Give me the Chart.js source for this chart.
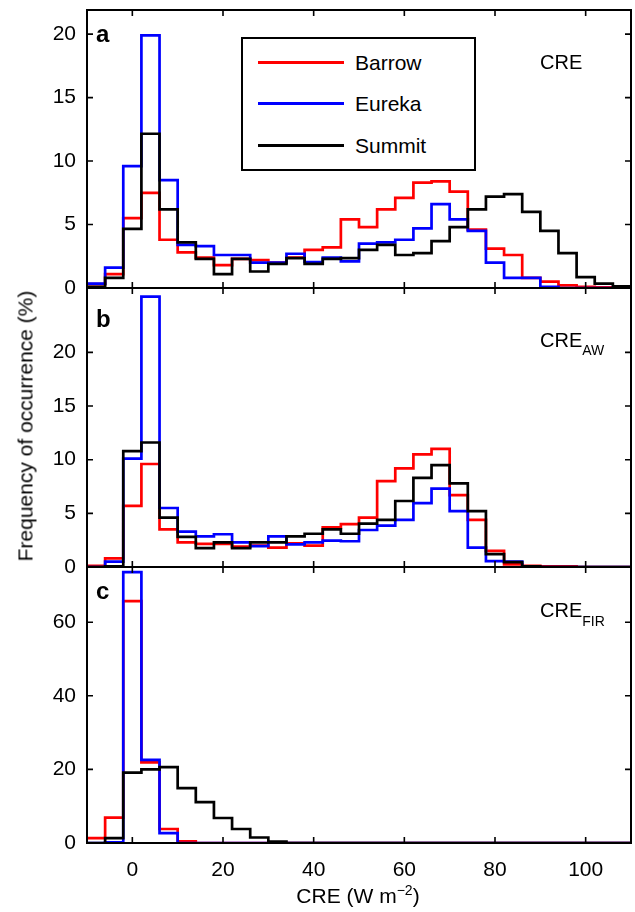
<!DOCTYPE html>
<html><head><meta charset="utf-8">
<script src="https://cdn.jsdelivr.net/npm/chart.js@4.4.1/dist/chart.umd.min.js"></script>
<style>
html,body{margin:0;padding:0;background:#fff;}
#wrap{position:relative;width:635px;height:912px;overflow:hidden;font-family:"Liberation Sans",Arial,Helvetica,sans-serif;color:#000;background:#fff;}
canvas{position:absolute;left:0;}
.t{position:absolute;line-height:1;white-space:nowrap;}
.sub{font-size:14px;line-height:0;}
.lg{position:absolute;height:3px;width:86px;left:258px;}
</style></head><body>
<div id="wrap">
<canvas id="ca" width="635" height="302" style="top:0px"></canvas>
<canvas id="cb" width="635" height="301" style="top:280px"></canvas>
<canvas id="cc" width="635" height="353" style="top:559px"></canvas>

<div style="position:absolute;left:241px;top:37px;width:235px;height:134px;border:2px solid #000;box-sizing:border-box;background:#fff;"></div>
<div class="lg" style="top:61px;background:#ff0000"></div>
<div class="lg" style="top:102px;background:#0000ff"></div>
<div class="lg" style="top:144px;background:#000000"></div>
<div class="t" style="left:355px;top:52px;font-size:21px;">Barrow</div>
<div class="t" style="left:355px;top:93px;font-size:21px;">Eureka</div>
<div class="t" style="left:355px;top:135px;font-size:21px;">Summit</div>

<div class="t" style="left:96px;top:21.7px;font-size:24px;font-weight:bold;">a</div>
<div class="t" style="left:96px;top:306.7px;font-size:24px;font-weight:bold;">b</div>
<div class="t" style="left:96px;top:578.7px;font-size:24px;font-weight:bold;">c</div>

<div class="t" style="left:540px;top:52px;font-size:20px;">CRE</div>
<div class="t" style="left:540px;top:330px;font-size:20px;">CRE<span class="sub" style="vertical-align:-8px">AW</span></div>
<div class="t" style="left:540px;top:600px;font-size:20px;">CRE<span class="sub" style="vertical-align:-9px">FIR</span></div>

<div class="t" style="left:25px;top:426px;font-size:21px;transform:translate(-50%,-50%) rotate(-90deg);">Frequency of occurrence (%)</div>
<div class="t" style="left:358px;top:885px;font-size:21px;transform:translateX(-50%);">CRE (W m<span style="font-size:14px;line-height:0;vertical-align:8px">−2</span>)</div>
</div>
<script>
// Histogram bins (left edges, W m-2) and the right edge of the last bin
const binStarts = [-10,-6,-2,2,6,10,14,18,22,26,30,34,38,42,46,50,54,58,62,66,70,74,78,82,86,90,94,98,102,106];
const binEnd = 110;

// x tick values (shared)
const xTickVals = [0,20,40,60,80,100];

// Panel a: CRE
const aBarrow = [0.3,1.1,5.5,7.5,3.8,2.8,2.4,1.8,2.3,2.2,2.0,2.4,3.0,3.2,5.4,4.8,6.2,7.1,8.3,8.4,7.6,4.6,3.1,2.6,0.8,0.5,0.2,0.1,0.05,0];
const aEureka = [0.35,1.6,9.6,19.9,8.5,3.4,3.3,2.6,2.6,2.0,2.0,2.7,2.05,2.4,2.1,3.5,3.6,3.8,4.7,6.6,5.4,4.5,2.0,0.8,0.8,0.1,0,0,0,0];
const aSummit = [0.1,0.8,4.65,12.15,6.2,3.6,2.3,1.1,2.3,1.3,1.9,2.35,1.9,2.3,2.35,3.0,3.4,2.6,2.75,3.7,4.8,6.2,7.2,7.4,6.0,4.5,2.75,0.85,0.35,0.13];
const aYTicks = [0,5,10,15,20];

// Panel b: CRE_AW
const bBarrow = [0.1,0.8,5.7,9.6,3.5,2.3,2.15,2.15,1.9,2.0,1.8,2.2,2.0,3.7,4.0,4.6,8.0,9.2,10.5,11.0,6.7,4.4,1.5,0.25,0.1,0.05,0.05,0,0,0];
const bEureka = [0,0.5,10.1,25.2,5.5,3.3,2.85,3.05,2.3,1.95,2.85,2.1,2.3,2.45,2.4,3.45,3.85,4.4,5.95,7.3,5.2,1.8,0.55,0.5,0,0,0,0,0,0];
const bSummit = [0,0.05,10.8,11.6,4.6,2.8,1.75,2.3,1.75,2.3,2.3,2.85,3.1,3.5,3.1,4.05,4.4,6.15,8.3,9.5,7.8,5.2,1.2,0.45,0.05,0,0,0,0,0];
const bYTicks = [0,5,10,15,20];

// Panel c: CRE_FIR
const cBarrow = [1.35,6.9,65.7,21.9,3.8,0.45,0,0,0,0,0,0,0,0,0,0,0,0,0,0,0,0,0,0,0,0,0,0,0,0];
const cEureka = [0,0.2,73.6,22.6,2.7,0,0,0,0,0,0,0,0,0,0,0,0,0,0,0,0,0,0,0,0,0,0,0,0,0];
const cSummit = [0,1.35,19.1,20.0,20.6,14.9,11.1,6.8,3.8,1.5,0.4,0,0,0,0,0,0,0,0,0,0,0,0,0,0,0,0,0,0,0];
const cYTicks = [0,20,40,60];

Chart.defaults.font.family = '"Liberation Sans", Arial, Helvetica, sans-serif';
Chart.defaults.color = '#000';

function steps(vals){
  const pts = vals.map((v,i)=>({x:binStarts[i], y:v}));
  pts.push({x:binEnd, y:vals[vals.length-1]});
  return pts;
}

const framePlugin = {
  id:'frame',
  afterDatasetsDraw(chart, args, opts){
    const {ctx, chartArea:a} = chart;
    const x = chart.scales.x, y = chart.scales.y;
    ctx.save();
    ctx.strokeStyle = '#000';
    ctx.lineWidth = 1.6;
    const L = 6;
    ctx.beginPath();
    opts.xTicks.forEach(v=>{
      const px = x.getPixelForValue(v);
      ctx.moveTo(px, a.bottom); ctx.lineTo(px, a.bottom - L);
      ctx.moveTo(px, a.top); ctx.lineTo(px, a.top + L);
    });
    opts.yTicks.forEach(v=>{
      const py = y.getPixelForValue(v);
      ctx.moveTo(a.left, py); ctx.lineTo(a.left + L, py);
      ctx.moveTo(a.right, py); ctx.lineTo(a.right - L, py);
    });
    ctx.stroke();
    ctx.lineWidth = 2;
    ctx.strokeRect(a.left, a.top, a.right - a.left, a.bottom - a.top);
    ctx.restore();
  }
};

function makeChart(id, barrow, eureka, summit, yMax, yTicks, pad, showX){
  const ds = (label, vals, color, order) => ({
    label, data: steps(vals), borderColor: color, borderWidth: 2.7,
    stepped: 'before', pointRadius: 0, fill: false, order, tension: 0
  });
  return new Chart(document.getElementById(id), {
    type: 'line',
    data: { datasets: [
      ds('Barrow', barrow, '#ff0000', 3),
      ds('Eureka', eureka, '#0000ff', 2),
      ds('Summit', summit, '#000000', 1)
    ]},
    options: {
      responsive: false, animation: false, devicePixelRatio: 1,
      layout: { padding: pad },
      plugins: { legend: {display:false}, tooltip: {enabled:false}, frame: {xTicks: xTickVals, yTicks: yTicks} },
      scales: {
        x: {
          type: 'linear', min: -10, max: 110, display: showX,
          grid: {display:false}, border: {display:false},
          afterBuildTicks: s => { s.ticks = xTickVals.map(v=>({value:v})); },
          afterFit: s => { s.height = showX ? 69 : 0; s.paddingLeft = 0; s.paddingRight = 0; },
          ticks: { font: {size:21}, padding: 7, maxRotation: 0, autoSkip: false, color:'#000' }
        },
        y: {
          type: 'linear', min: 0, max: yMax,
          grid: {display:false}, border: {display:false},
          afterBuildTicks: s => { s.ticks = yTicks.map(v=>({value:v})); },
          afterFit: s => { s.width = 87; s.paddingTop = 0; s.paddingBottom = 0; },
          ticks: { font: {size:21}, padding: 3, color:'#000' }
        }
      }
    },
    plugins: [framePlugin]
  });
}

makeChart('ca', aBarrow, aEureka, aSummit, 21.9, aYTicks, {top:10, right:4, bottom:14, left:0}, false);
makeChart('cb', bBarrow, bEureka, bSummit, 26, bYTicks, {top:8, right:4, bottom:14, left:0}, false);
makeChart('cc', cBarrow, cEureka, cSummit, 75, cYTicks, {top:8, right:4, bottom:0, left:0}, true);
</script>
</body></html>
